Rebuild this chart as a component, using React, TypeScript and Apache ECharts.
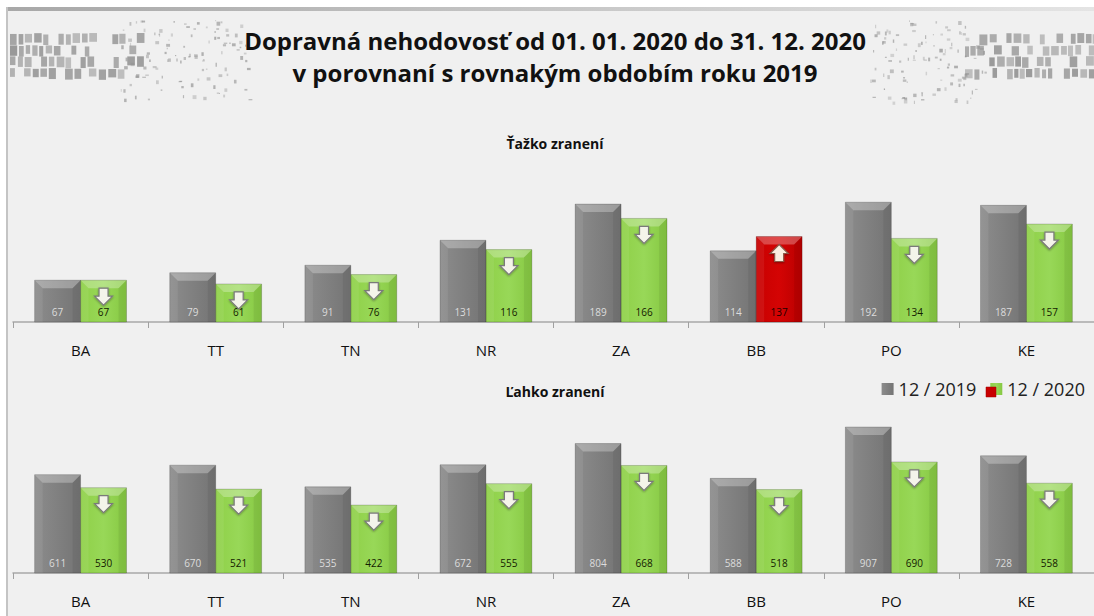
import React, { useEffect, useRef } from "react";
import * as echarts from "echarts";

const categories = ["BA", "TT", "TN", "NR", "ZA", "BB", "PO", "KE"];
const severe2019 = [67, 79, 91, 131, 189, 114, 192, 187];
const severe2020 = [67, 61, 76, 116, 166, 137, 134, 157];
const light2019 = [611, 670, 535, 672, 804, 588, 907, 728];
const light2020 = [530, 521, 422, 555, 668, 518, 690, 558];
const legendNames = ["12 / 2019", "12 / 2020"];

const FONT = "'Liberation Sans Narrow', 'Open Sans', 'Noto Sans', sans-serif";

const grayFill = new echarts.graphic.LinearGradient(0, 0, 1, 0, [
  { offset: 0, color: "#8c8c8c" },
  { offset: 0.5, color: "#808080" },
  { offset: 1, color: "#747474" },
]);
const greenFill = new echarts.graphic.LinearGradient(0, 0, 1, 0, [
  { offset: 0, color: "#8fd048" },
  { offset: 0.5, color: "#98d858" },
  { offset: 1, color: "#86c842" },
]);
const redFill = new echarts.graphic.LinearGradient(0, 0, 1, 0, [
  { offset: 0, color: "#c80000" },
  { offset: 0.5, color: "#d40404" },
  { offset: 1, color: "#b80000" },
]);

function texture(): any[] {
  // decorative tyre-track texture (deterministic)
  let s = 12345;
  const rnd = () => {
    s = (s * 1103515245 + 12345) % 2147483648;
    return s / 2147483648;
  };
  const els: any[] = [];
  const rows = [33, 45, 56, 68];
  const track = (x0: number, x1: number, fadeDir: number, sparseTo: number) => {
    rows.forEach((ry) => {
      for (let x = x0; x < x1; ) {
        const w = 4 + rnd() * 4;
        const edge = fadeDir > 0 ? (x - x0) / (x1 - x0) : (x1 - x) / (x1 - x0);
        if (rnd() > 0.15 + edge * 0.35) {
          els.push({
            type: "rect",
            silent: true,
            shape: { x, y: ry + rnd() * 1.5, width: w, height: 8 + rnd() * 3 },
            style: { fill: "#8e8e8e", opacity: 0.5 + rnd() * 0.4 },
          });
        }
        x += w + 1 + rnd() * 1.5;
      }
    });
    for (let k = 0; k < 110; k++) {
      const t = rnd();
      const x = fadeDir > 0 ? x1 - 20 + t * (sparseTo - x1 + 20) : sparseTo + t * (x0 + 20 - sparseTo);
      els.push({
        type: "rect",
        silent: true,
        shape: { x, y: 20 + rnd() * 82, width: 1 + rnd() * 3, height: 1 + rnd() * 3 },
        style: { fill: "#8e8e8e", opacity: 0.3 + rnd() * 0.4 },
      });
    }
  };
  track(10, 140, 1, 250);
  track(965, 1094, -1, 870);
  return els;
}

function barSeries(gridIdx: number, v19: number[], v20: number[]): any[] {
  const common = {
    type: "bar",
    xAxisIndex: gridIdx,
    yAxisIndex: gridIdx,
    barWidth: "34%",
    barGap: "0%",
  };
  const decor = {
    type: "custom",
    xAxisIndex: gridIdx,
    yAxisIndex: gridIdx,
    z: 5,
    silent: true,
    encode: { x: 0, y: 1 },
    data: categories.map((_, i) => [i, v19[i], v20[i]]),
    renderItem: (params: any, api: any) => {
      const idx = api.value(0);
      const a = api.value(1);
      const b = api.value(2);
      const bw = api.size([1, 0])[0] * 0.34;
      const cx = api.coord([idx, 0])[0];
      const base = api.coord([idx, 0])[1];
      const topA = api.coord([idx, a])[1];
      const topB = api.coord([idx, b])[1];
      const children: any[] = [];
      const bevel = (x0: number, top: number) => {
        const x1 = x0 + bw;
        const h = Math.min(8, (base - top) / 2);
        children.push({
          type: "polygon",
          shape: { points: [[x0, top], [x1, top], [x1 - h, top + h], [x0 + h, top + h]] },
          style: { fill: "rgba(255,255,255,0.28)" },
        });
        children.push({
          type: "polygon",
          shape: { points: [[x0, top], [x0 + h, top + h], [x0 + h, base], [x0, base]] },
          style: { fill: "rgba(255,255,255,0.07)" },
        });
        children.push({
          type: "polygon",
          shape: { points: [[x1, top], [x1 - h, top + h], [x1 - h, base], [x1, base]] },
          style: { fill: "rgba(0,0,0,0.06)" },
        });
        children.push({
          type: "rect",
          shape: { x: x0, y: top, width: bw, height: base - top },
          style: { fill: "none", stroke: "rgba(0,0,0,0.18)", lineWidth: 1 },
        });
      };
      bevel(cx - bw, topA);
      bevel(cx, topB);
      const ax = cx + bw / 2;
      const ay = topB + 8;
      const up = b > a;
      const pts = up
        ? [[0, 0], [9, 9], [4.5, 9], [4.5, 17], [-4.5, 17], [-4.5, 9], [-9, 9]]
        : [[-4.5, 0], [4.5, 0], [4.5, 8], [9, 8], [0, 17], [-9, 8], [-4.5, 8]];
      children.push({
        type: "polygon",
        shape: { points: pts.map((p) => [ax + p[0], ay + p[1]]) },
        style: {
          fill: up ? "#fbeee0" : "#f4f4ea",
          stroke: up ? "#8a5a4a" : "#7a7a7a",
          lineWidth: 1.2,
          shadowBlur: 2,
          shadowColor: "rgba(0,0,0,0.35)",
          shadowOffsetY: 1,
        },
      });
      return { type: "group", children };
    },
  };
  return [
    {
      ...common,
      name: legendNames[0],
      itemStyle: { color: grayFill },
      label: {
        show: true,
        position: "insideBottom",
        distance: 5,
        color: "#dcdcdc",
        fontSize: 10,
        fontFamily: FONT,
      },
      data: v19,
    },
    {
      ...common,
      name: legendNames[1],
      itemStyle: { color: greenFill },
      label: {
        show: true,
        position: "insideBottom",
        distance: 5,
        color: "#142000",
        fontSize: 10,
        fontFamily: FONT,
      },
      data: v20.map((v, i) =>
        v > v19[i] ? { value: v, itemStyle: { color: redFill }, label: { color: "#200000" } } : v
      ),
    },
    decor,
  ];
}

export default function App() {
  const ref = useRef<HTMLDivElement>(null);
  useEffect(() => {
    document.body.style.margin = "0";
    const chart = echarts.init(ref.current!, null, { renderer: "svg" });
    const xAxisBase = {
      type: "category",
      data: categories,
      axisLine: { lineStyle: { color: "#a8a8a8", width: 1.5 } },
      axisTick: { show: true, length: 6, lineStyle: { color: "#a0a0a0" } },
      axisLabel: { color: "#111", fontSize: 15, margin: 20, fontFamily: FONT },
    };
    const yAxisBase = { type: "value", min: 0, show: false, splitLine: { show: false } };
    chart.setOption({
      animation: false,
      backgroundColor: "#ffffff",
      textStyle: { fontFamily: FONT },
      grid: [
        { left: 13, right: 0, top: 166, height: 156 },
        { left: 13, right: 0, top: 412, height: 161 },
      ],
      xAxis: [
        { ...xAxisBase, gridIndex: 0 },
        { ...xAxisBase, gridIndex: 1 },
      ],
      yAxis: [
        { ...yAxisBase, gridIndex: 0, max: 250 },
        { ...yAxisBase, gridIndex: 1, max: 1000 },
      ],
      legend: {
        data: legendNames,
        right: 4,
        top: 375,
        icon: "rect",
        itemWidth: 12,
        itemHeight: 12,
        itemGap: 14,
        selectedMode: false,
        textStyle: { color: "#222", fontSize: 18, fontFamily: FONT },
      },
      graphic: [
        {
          type: "rect",
          silent: true,
          z: -10,
          shape: { x: 7, y: 7, width: 1087, height: 609 },
          style: { fill: "#f0f0f0" },
        },
        {
          type: "rect",
          silent: true,
          z: -9,
          shape: { x: 7, y: 7, width: 1087, height: 4 },
          style: {
            fill: new echarts.graphic.LinearGradient(0, 0, 1, 0, [
              { offset: 0, color: "#a8a8a8" },
              { offset: 1, color: "#e4e4e4" },
            ]),
          },
        },
        {
          type: "rect",
          silent: true,
          z: -9,
          shape: { x: 6, y: 7, width: 2, height: 609 },
          style: { fill: "#c4c4c4" },
        },
        ...texture(),
        {
          type: "rect",
          silent: true,
          z: 100,
          shape: { x: 986, y: 387, width: 10, height: 10 },
          style: { fill: "#c80000", stroke: "#a00000", lineWidth: 0.5 },
        },
        {
          type: "text",
          silent: true,
          x: 555,
          y: 40,
          style: {
            text: "Dopravná nehodovosť od 01. 01. 2020 do 31. 12. 2020",
            fill: "#111",
            font: `bold 24px ${FONT}`,
            align: "center",
            verticalAlign: "middle",
          },
        },
        {
          type: "text",
          silent: true,
          x: 555,
          y: 72,
          style: {
            text: "v porovnaní s rovnakým obdobím roku 2019",
            fill: "#111",
            font: `bold 24px ${FONT}`,
            align: "center",
            verticalAlign: "middle",
          },
        },
        {
          type: "text",
          silent: true,
          x: 555,
          y: 143,
          style: {
            text: "Ťažko zranení",
            fill: "#111",
            font: `bold 14px ${FONT}`,
            align: "center",
            verticalAlign: "middle",
          },
        },
        {
          type: "text",
          silent: true,
          x: 555,
          y: 391,
          style: {
            text: "Ľahko zranení",
            fill: "#111",
            font: `bold 14px ${FONT}`,
            align: "center",
            verticalAlign: "middle",
          },
        },
      ],
      series: [...barSeries(0, severe2019, severe2020), ...barSeries(1, light2019, light2020)],
    });
    return () => chart.dispose();
  }, []);
  return (
    <div
      ref={ref}
      style={{ position: "fixed", left: 0, top: 0, width: 1094, height: 616 }}
    />
  );
}
